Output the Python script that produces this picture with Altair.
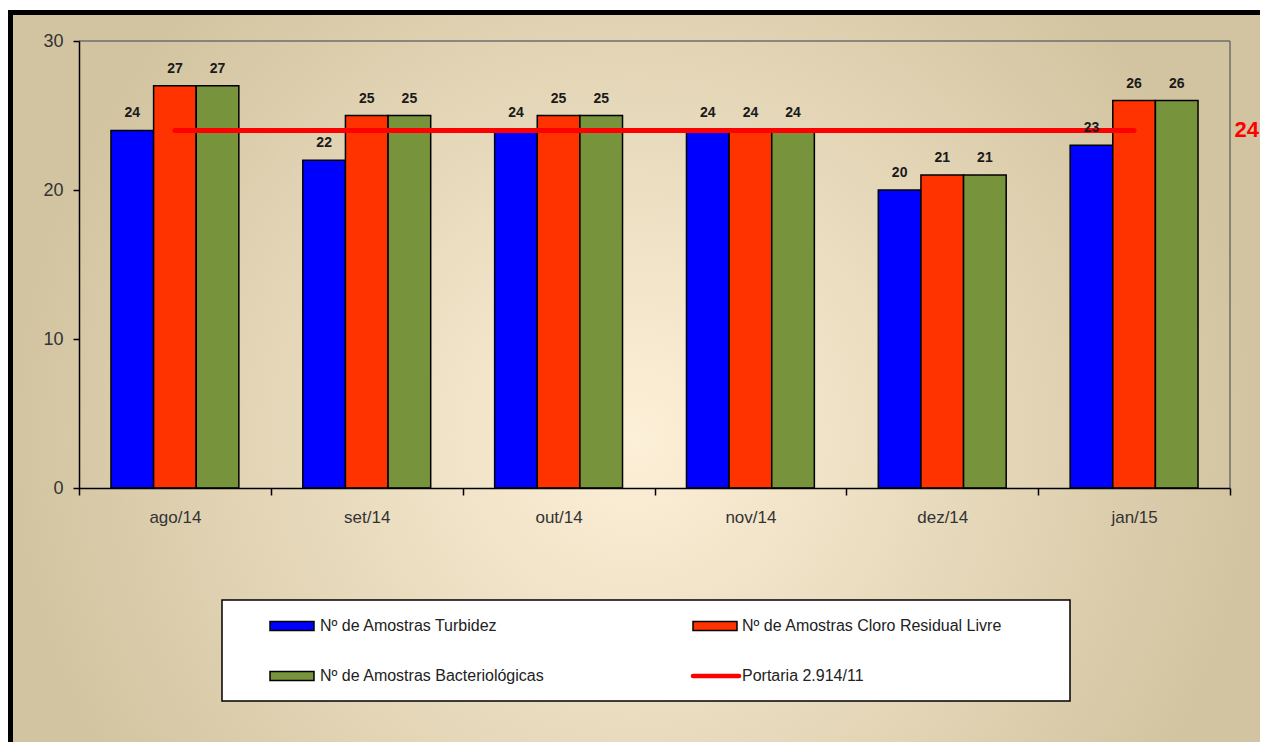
import altair as alt
import pandas as pd

# ---------------- data ----------------
months = ["ago/14", "set/14", "out/14", "nov/14", "dez/14", "jan/15"]
turbidez = [24, 22, 24, 24, 20, 23]
cloro = [27, 25, 25, 24, 21, 26]
bacterio = [27, 25, 25, 24, 21, 26]
portaria_value = 24
series = [
    "Nº de Amostras Turbidez",
    "Nº de Amostras Cloro Residual Livre",
    "Nº de Amostras Bacteriológicas",
]
portaria_label = "Portaria 2.914/11"
colors = ["#0000FF", "#FF3300", "#77933C"]
line_color = "#FF0000"

rows = []
for name, vals in zip(series, [turbidez, cloro, bacterio]):
    for m, v in zip(months, vals):
        rows.append({"month": m, "series": name, "value": v})
bars_df = pd.DataFrame(rows)
line_df = pd.DataFrame({"month": months, "value": [portaria_value] * len(months)})

FONT = "Liberation Sans"
W, H = 1151, 447
PAD = {"left": 71, "top": 33, "right": 30, "bottom": 254}

one = alt.Data(values=[{"a": 1}])

# ---------------- background & frame ----------------
bg = alt.Chart(one).mark_rect(
    fill={
        "gradient": "radial",
        "x1": 0.5, "y1": 0.55, "r1": 0,
        "x2": 0.5, "y2": 0.55, "r2": 0.5,
        "stops": [
            {"offset": 0, "color": "#fdf0d8"},
            {"offset": 1, "color": "#d2c4a0"},
        ],
    },
    strokeWidth=0,
).encode(x=alt.value(-71), x2=alt.value(1181), y=alt.value(-31), y2=alt.value(701))

frame_top = alt.Chart(one).mark_rule(color="black", strokeWidth=5).encode(
    x=alt.value(-71), x2=alt.value(1181), y=alt.value(-28.5)
)
frame_left = alt.Chart(one).mark_rule(color="black", strokeWidth=5).encode(
    x=alt.value(-68.5), y=alt.value(-31), y2=alt.value(701)
)

# plot-area border (top and right)
border_top = alt.Chart(one).mark_rule(color="#6e6e6e", strokeWidth=1.5).encode(
    x=alt.value(0), x2=alt.value(W), y=alt.value(0)
)
border_right = alt.Chart(one).mark_rule(color="#6e6e6e", strokeWidth=1.5).encode(
    x=alt.value(W), y=alt.value(0), y2=alt.value(H)
)

# ---------------- bars ----------------
x_enc = alt.X(
    "month:N",
    sort=months,
    scale=alt.Scale(paddingInner=0, paddingOuter=0),
    axis=alt.Axis(
        title=None, labelAngle=0, tickBand="extent", tickSize=7, tickWidth=1.5,
        tickColor="black", domainColor="black", domainWidth=1.5,
        labelFont=FONT, labelFontSize=17, labelColor="#333333", labelPadding=14,
        zindex=2,
    ),
)
y_enc = alt.Y(
    "value:Q",
    scale=alt.Scale(domain=[0, 30], nice=False),
    axis=alt.Axis(
        title=None, values=[0, 10, 20, 30], grid=False, tickSize=6, tickWidth=1.5,
        tickColor="black", domainColor="black", domainWidth=1.5,
        labelFont=FONT, labelFontSize=18, labelColor="#333333", labelPadding=10,
        zindex=2,
    ),
)
xo_enc = alt.XOffset("series:N", sort=series,
                     scale=alt.Scale(paddingInner=0, paddingOuter=0.75))

bars = alt.Chart(bars_df).mark_bar(stroke="black", strokeWidth=1.5).encode(
    x=x_enc,
    xOffset=xo_enc,
    y=y_enc,
    color=alt.Color("series:N", scale=alt.Scale(domain=series, range=colors), legend=None),
)

labels = alt.Chart(bars_df).mark_text(
    font=FONT, fontSize=14, fontWeight="bold", color="#1a1a1a",
    baseline="alphabetic", dy=-13,
).encode(x=x_enc, xOffset=xo_enc, y=y_enc, text=alt.Text("value:Q"))

line = alt.Chart(line_df).mark_line(
    color=line_color, strokeWidth=5, strokeCap="round"
).encode(x=alt.X("month:N", sort=months), y=alt.Y("value:Q"))

line_label = alt.Chart(alt.Data(values=[{"value": portaria_value}])).mark_text(
    font=FONT, fontSize=22, fontWeight="bold", color=line_color,
    align="right", baseline="middle",
).encode(x=alt.value(1180), y=alt.Y("value:Q"), text=alt.Text("value:Q"))

# ---------------- manual legend ----------------
legend_box = alt.Chart(one).mark_rect(fill="white", stroke="black", strokeWidth=1.5).encode(
    x=alt.value(143), x2=alt.value(991), y=alt.value(559), y2=alt.value(660)
)
legend_layers = [legend_box]
sym_x = [191, 614]
text_x = [241, 663]
row_y = [585, 635]
entries = list(zip(series, colors)) + [(portaria_label, line_color)]
for i, (name, col) in enumerate(entries):
    c, r = i % 2, i // 2
    if name == portaria_label:
        sym = alt.Chart(one).mark_rule(color=col, strokeWidth=4.5, strokeCap="round").encode(
            x=alt.value(sym_x[c]), x2=alt.value(sym_x[c] + 46), y=alt.value(row_y[r])
        )
    else:
        sym = alt.Chart(one).mark_rect(fill=col, stroke="black", strokeWidth=1.5).encode(
            x=alt.value(sym_x[c]), x2=alt.value(sym_x[c] + 44),
            y=alt.value(row_y[r] - 4.5), y2=alt.value(row_y[r] + 4.5),
        )
    txt = alt.Chart(alt.Data(values=[{"label": name}])).mark_text(
        font=FONT, fontSize=16, color="#222222", align="left", baseline="middle"
    ).encode(x=alt.value(text_x[c]), y=alt.value(row_y[r]), text=alt.Text("label:N"))
    legend_layers += [sym, txt]

chart = alt.layer(
    bg, frame_top, frame_left, border_top, border_right,
    bars, line, labels, line_label, *legend_layers
).properties(
    width=W, height=H,
    autosize=alt.AutoSizeParams(type="none"),
    padding=PAD,
).configure_view(
    stroke=None
).configure(background="white")

chart.save("out.html", embed_options={"renderer": "svg", "actions": False})
